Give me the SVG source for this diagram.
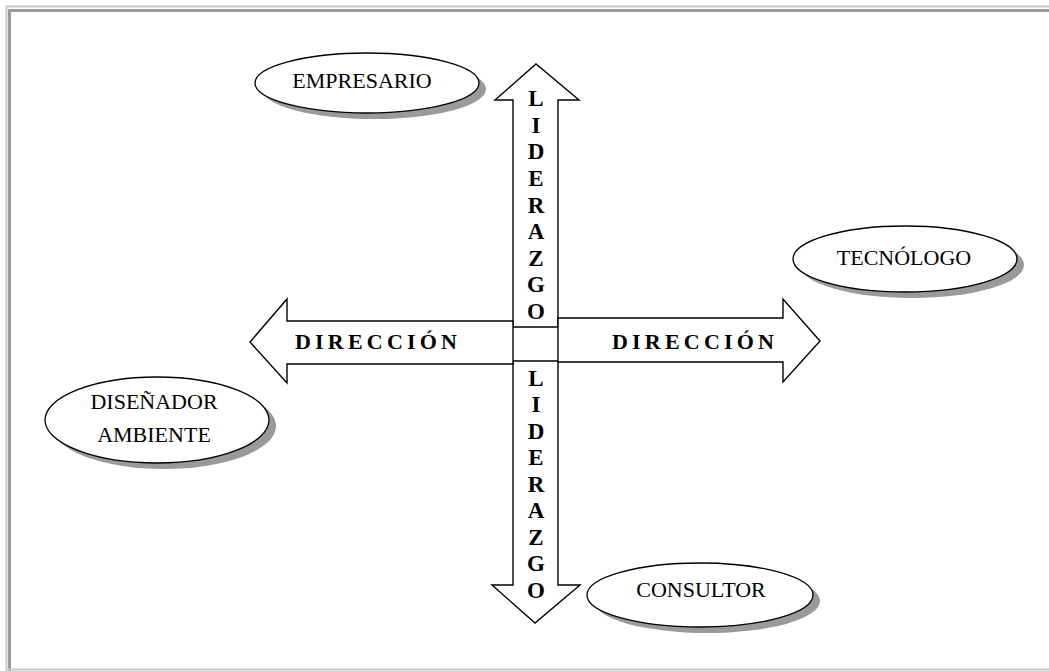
<svg xmlns="http://www.w3.org/2000/svg" width="1049" height="671" viewBox="0 0 1049 671">
  <style>
    .frame-light { stroke: #c8c8c8; stroke-width: 2; fill: none; }
    .frame-dark { stroke: #9a9a9a; stroke-width: 3; fill: none; }
    .arrow { fill: #ffffff; stroke: #000000; stroke-width: 1.4; stroke-linejoin: miter; }
    .shadow { fill: #9a9a9a; }
    .oval { fill: #ffffff; stroke: #000000; stroke-width: 1.3; }
    .label { font-family: "Liberation Serif", "Times New Roman", serif; font-size: 22px; fill: #000000; text-anchor: middle; }
    .vletter { font-family: "Liberation Serif", "Times New Roman", serif; font-size: 23px; font-weight: bold; fill: #000000; text-anchor: middle; }
    .hword { font-family: "Liberation Serif", "Times New Roman", serif; font-size: 22px; font-weight: bold; fill: #000000; letter-spacing: 4.2px; }
  </style>

  <rect width="1049" height="671" fill="#ffffff"/>

  <!-- page frame -->
  <g id="frame">
    <path class="frame-light" d="M6.5,671 V6.5 H1049"/>
    <path class="frame-dark" d="M9.5,671 V10.5 H1049"/>
    <path class="frame-light" d="M6,669.5 H1049"/>
  </g>

  <!-- cross of block arrows -->
  <g id="connectors">
    <polygon id="arrow-up" class="arrow" points="513,327 513,100 495,100 536,64 579,100 558,100 558,327"/>
    <polygon id="arrow-down" class="arrow" points="513,361 558,361 558,585 580,585 535,623 492,585 513,585"/>
    <polygon id="arrow-left" class="arrow" points="513,321 287,321 287,299 250,342 287,383 287,364 513,364"/>
    <polygon id="arrow-right" class="arrow" points="558,318 783,318 783,299 820,341 783,382 783,362 558,362"/>

    <g id="label-up">
      <text class="vletter" x="536" y="106">L</text>
      <text class="vletter" x="536" y="133">I</text>
      <text class="vletter" x="536" y="159">D</text>
      <text class="vletter" x="536" y="186">E</text>
      <text class="vletter" x="536" y="213">R</text>
      <text class="vletter" x="536" y="239">A</text>
      <text class="vletter" x="536" y="266">Z</text>
      <text class="vletter" x="536" y="292">G</text>
      <text class="vletter" x="536" y="319">O</text>
    </g>
    <g id="label-down">
      <text class="vletter" x="536" y="386">L</text>
      <text class="vletter" x="536" y="412">I</text>
      <text class="vletter" x="536" y="439">D</text>
      <text class="vletter" x="536" y="465">E</text>
      <text class="vletter" x="536" y="492">R</text>
      <text class="vletter" x="536" y="518">A</text>
      <text class="vletter" x="536" y="545">Z</text>
      <text class="vletter" x="536" y="571">G</text>
      <text class="vletter" x="536" y="598">O</text>
    </g>
    <text class="hword" x="295" y="349">DIRECCIÓN</text>
    <text class="hword" x="612" y="349">DIRECCIÓN</text>
  </g>

  <!-- role ovals -->
  <g id="node-empresario">
    <ellipse class="shadow" cx="374" cy="89" rx="112" ry="30"/>
    <ellipse class="oval" cx="367" cy="83" rx="112" ry="30"/>
    <text class="label" x="362" y="88">EMPRESARIO</text>
  </g>

  <g id="node-tecnologo">
    <ellipse class="shadow" cx="912" cy="265" rx="112" ry="33"/>
    <ellipse class="oval" cx="905" cy="259" rx="112" ry="33"/>
    <text class="label" x="904" y="265">TECNÓLOGO</text>
  </g>

  <g id="node-disenador">
    <ellipse class="shadow" cx="164" cy="426" rx="112" ry="43"/>
    <ellipse class="oval" cx="157" cy="420" rx="112" ry="43"/>
    <text class="label" x="154" y="409">DISEÑADOR</text>
    <text class="label" x="154" y="442">AMBIENTE</text>
  </g>

  <g id="node-consultor">
    <ellipse class="shadow" cx="707" cy="601" rx="113" ry="32"/>
    <ellipse class="oval" cx="700" cy="595" rx="113" ry="32"/>
    <text class="label" x="701" y="597">CONSULTOR</text>
  </g>
</svg>
